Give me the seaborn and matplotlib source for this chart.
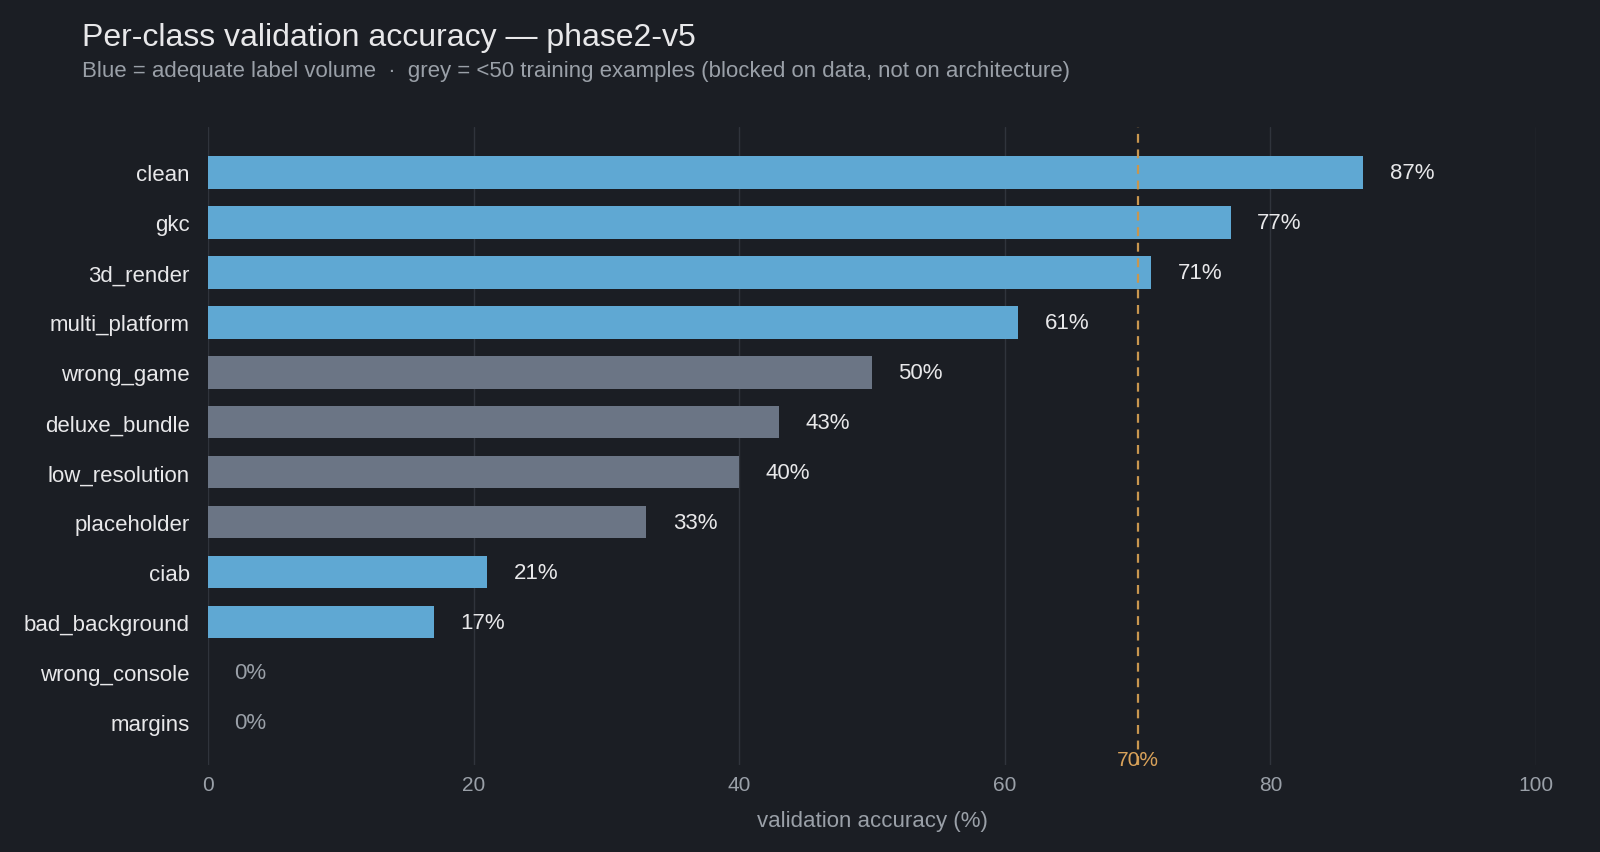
import matplotlib
matplotlib.use("Agg")
import matplotlib.pyplot as plt
import seaborn as sns
import pandas as pd

# data
classes = ["clean", "gkc", "3d_render", "multi_platform", "wrong_game", "deluxe_bundle",
           "low_resolution", "placeholder", "ciab", "bad_background", "wrong_console", "margins"]
accuracy = [87, 77, 71, 61, 50, 43, 40, 33, 21, 17, 0, 0]
low_volume = [False, False, False, False, True, True, True, True, False, False, False, False]
target = 70

BG = "#1b1e24"
BLUE = "#5fa8d3"
GREY = "#6b7585"
ORANGE = "#d9a25a"
MUTED = "#9aa0a8"
TEXT = "#e8e8ea"

sns.set_theme(style="dark")
plt.rcParams["font.family"] = ["Liberation Sans", "DejaVu Sans"]

df = pd.DataFrame({"cls": classes, "acc": accuracy,
                   "grp": ["grey" if g else "blue" for g in low_volume]})

fig = plt.figure(figsize=(16, 8.53), dpi=100, facecolor=BG)
ax = fig.add_axes([0.13, 0.102, 0.83, 0.748])
ax.set_facecolor(BG)

sns.barplot(data=df, x="acc", y="cls", hue="grp", palette={"blue": BLUE, "grey": GREY},
            dodge=False, width=0.65, legend=False, ax=ax, saturation=1, linewidth=0)

ax.set_xlim(0, 100)
ax.set_ylim(11.86, -0.91)
ax.set_xticks([0, 20, 40, 60, 80, 100])
ax.grid(axis="x", color="#30343c", linewidth=1)
ax.grid(axis="y", visible=False)
for s in ax.spines.values():
    s.set_visible(False)
ax.tick_params(axis="x", colors=MUTED, labelsize=15, length=0, pad=7)
ax.tick_params(axis="y", colors=TEXT, labelsize=16, length=0, pad=13)
ax.set_ylabel("")
ax.set_xlabel("validation accuracy (%)", color=MUTED, fontsize=16, labelpad=12)

for i, v in enumerate(accuracy):
    ax.text(v + 2, i, f"{v}%", va="center", ha="left", fontsize=16,
            color=MUTED if v == 0 else TEXT)

ax.axvline(target, color="#c8964f", linestyle=(0, (4, 3)), linewidth=1.6)
ax.text(target, 11.76, f"{target}%", ha="center", va="center", fontsize=15, color=ORANGE)

fig.text(0.051, 0.956, "Per-class validation accuracy \u2014 phase2-v5", color=TEXT,
         fontsize=23, va="center", ha="left")
fig.text(0.051, 0.916, "Blue = adequate label volume  \u00b7  grey = <50 training examples (blocked on data, not on architecture)",
         color=MUTED, fontsize=16, va="center", ha="left")

fig.savefig("out.png", dpi=100, facecolor=BG)
